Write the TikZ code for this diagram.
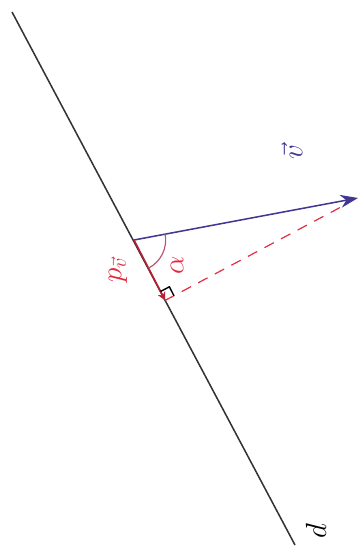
\documentclass[tikz,border=0pt]{standalone}
\usepackage{amsmath,amssymb}
\usetikzlibrary{calc,angles,arrows.meta}
\definecolor{vblue}{RGB}{65,55,145}
\definecolor{pred}{RGB}{228,40,62}
\definecolor{arcred}{RGB}{185,85,110}

\begin{document}
\begin{tikzpicture}[x=0.03cm, y=0.03cm]
    % Define styles
    \tikzstyle{lbl} = [rotate=90, inner sep=1pt, font=\fontsize{27}{29}\selectfont]
    \tikzstyle{arrow} = [line width=1.3pt, -{Stealth[length=15pt, width=11pt]}]
    \useasboundingbox (0,0) rectangle (363,551);

    % Points
    \coordinate (top) at (12,539);
    \coordinate (bot) at (295,6);
    \coordinate (O) at (134,311);
    \coordinate (V) at (358,353);
    \coordinate (H) at ($(top)!(V)!(bot)$);
    \coordinate (Vend) at ($(H)!0.93!(V)$);

    % Line d
    \draw[line width=1.3pt, black!80] (top) -- (bot);

    % Vector v and its projection
    \draw[arrow, vblue] (O) -- (V);
    \draw[pred, line width=1pt, dash pattern=on 9pt off 7pt] (H) -- (Vend);
    \draw[pred!80!black, line width=1.4pt, -{Stealth[length=7pt, width=7pt]}] (O) -- (H);

    % Angle and right angle
    \pic[draw=arcred, line width=1pt, angle radius=0.95cm] {angle = H--O--V};
    \coordinate (H1) at ($(H)!0.3cm!(O)$);
    \coordinate (H2) at ($(H)!0.3cm!(V)$);
    \draw[line width=1.2pt] (H1) -- ($(H1)+(H2)-(H)$) -- (H2);

    % Labels
    \node[lbl, vblue] (vlab) at (292,399) {$\vec{v}$};
    \node[lbl, pred] (plab) at (118,281) {$p_{\vec{v}}$};
    \node[lbl, pred] (alab) at (177,286) {$\alpha$};
    \node[lbl] (dlab) at (316,20) {$d$};
\end{tikzpicture}
\end{document}
